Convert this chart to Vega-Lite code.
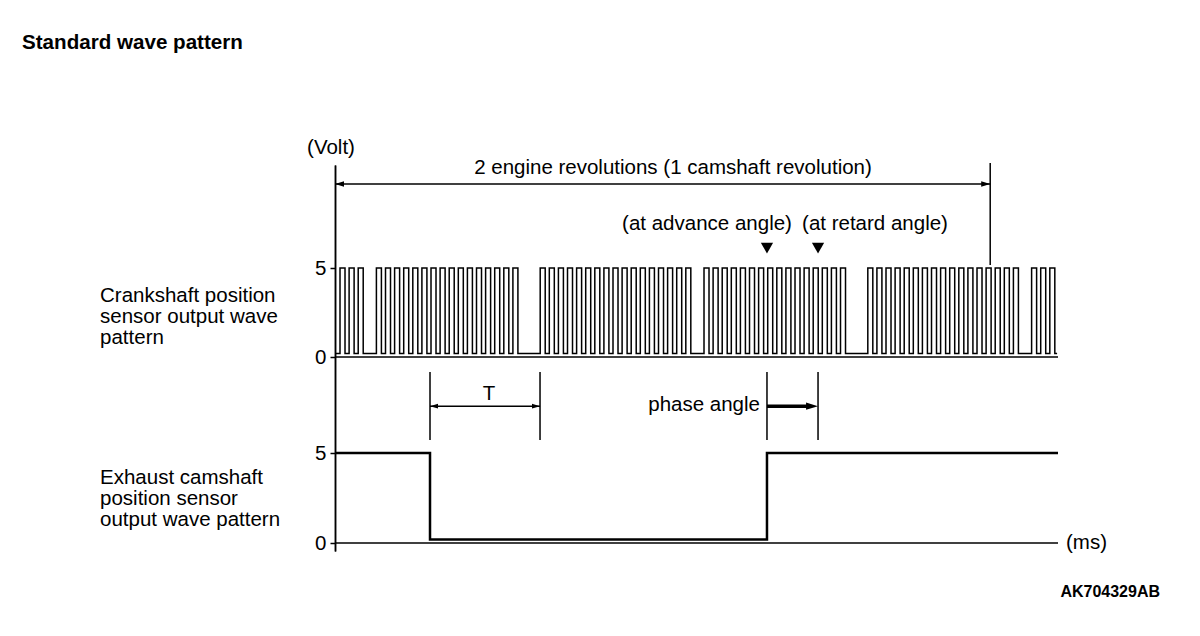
{
  "$schema": "https://vega.github.io/schema/vega-lite/v6.json",
  "width": 723,
  "height": 386,
  "autosize": {"type": "none"},
  "padding": {"left": 335, "top": 165, "right": 142, "bottom": 85},
  "background": "white",
  "config": {"view": {"stroke": null}, "font": "Liberation Sans", "text": {"font": "Liberation Sans", "fontSize": 20.5, "color": "black"}},
  "title": {"text": "Standard wave pattern", "anchor": "start", "frame": "group", "dx": -313, "offset": 74, "baseline": "middle", "fontSize": 20.6, "fontWeight": "bold", "color": "black", "font": "Liberation Sans"},
  "datasets": {
    "crank": [
      {"t":0,"v":0.2},
      {"t":0.55,"v":5},{"t":1.1,"v":0.2},{"t":1.55,"v":5},{"t":2.1,"v":0.2},{"t":2.55,"v":5},{"t":3.1,"v":0.2},
      {"t":4.55,"v":5},{"t":5.1,"v":0.2},{"t":5.55,"v":5},{"t":6.1,"v":0.2},{"t":6.55,"v":5},{"t":7.1,"v":0.2},{"t":7.55,"v":5},{"t":8.1,"v":0.2},
      {"t":8.55,"v":5},{"t":9.1,"v":0.2},{"t":9.55,"v":5},{"t":10.1,"v":0.2},{"t":10.55,"v":5},{"t":11.1,"v":0.2},{"t":11.55,"v":5},{"t":12.1,"v":0.2},
      {"t":12.55,"v":5},{"t":13.1,"v":0.2},{"t":13.55,"v":5},{"t":14.1,"v":0.2},{"t":14.55,"v":5},{"t":15.1,"v":0.2},{"t":15.55,"v":5},{"t":16.1,"v":0.2},
      {"t":16.55,"v":5},{"t":17.1,"v":0.2},{"t":17.55,"v":5},{"t":18.1,"v":0.2},{"t":18.55,"v":5},{"t":19.1,"v":0.2},{"t":19.55,"v":5},{"t":20.1,"v":0.2},
      {"t":22.55,"v":5},{"t":23.1,"v":0.2},{"t":23.55,"v":5},{"t":24.1,"v":0.2},{"t":24.55,"v":5},{"t":25.1,"v":0.2},{"t":25.55,"v":5},{"t":26.1,"v":0.2},
      {"t":26.55,"v":5},{"t":27.1,"v":0.2},{"t":27.55,"v":5},{"t":28.1,"v":0.2},{"t":28.55,"v":5},{"t":29.1,"v":0.2},{"t":29.55,"v":5},{"t":30.1,"v":0.2},
      {"t":30.55,"v":5},{"t":31.1,"v":0.2},{"t":31.55,"v":5},{"t":32.1,"v":0.2},{"t":32.55,"v":5},{"t":33.1,"v":0.2},{"t":33.55,"v":5},{"t":34.1,"v":0.2},
      {"t":34.55,"v":5},{"t":35.1,"v":0.2},{"t":35.55,"v":5},{"t":36.1,"v":0.2},{"t":36.55,"v":5},{"t":37.1,"v":0.2},{"t":37.55,"v":5},{"t":38.1,"v":0.2},
      {"t":38.55,"v":5},{"t":39.1,"v":0.2},
      {"t":40.55,"v":5},{"t":41.1,"v":0.2},{"t":41.55,"v":5},{"t":42.1,"v":0.2},{"t":42.55,"v":5},{"t":43.1,"v":0.2},{"t":43.55,"v":5},{"t":44.1,"v":0.2},
      {"t":44.55,"v":5},{"t":45.1,"v":0.2},{"t":45.55,"v":5},{"t":46.1,"v":0.2},{"t":46.55,"v":5},{"t":47.1,"v":0.2},{"t":47.55,"v":5},{"t":48.1,"v":0.2},
      {"t":48.55,"v":5},{"t":49.1,"v":0.2},{"t":49.55,"v":5},{"t":50.1,"v":0.2},{"t":50.55,"v":5},{"t":51.1,"v":0.2},{"t":51.55,"v":5},{"t":52.1,"v":0.2},
      {"t":52.55,"v":5},{"t":53.1,"v":0.2},{"t":53.55,"v":5},{"t":54.1,"v":0.2},{"t":54.55,"v":5},{"t":55.1,"v":0.2},{"t":55.55,"v":5},{"t":56.1,"v":0.2},
      {"t":58.55,"v":5},{"t":59.1,"v":0.2},{"t":59.55,"v":5},{"t":60.1,"v":0.2},{"t":60.55,"v":5},{"t":61.1,"v":0.2},{"t":61.55,"v":5},{"t":62.1,"v":0.2},
      {"t":62.55,"v":5},{"t":63.1,"v":0.2},{"t":63.55,"v":5},{"t":64.1,"v":0.2},{"t":64.55,"v":5},{"t":65.1,"v":0.2},{"t":65.55,"v":5},{"t":66.1,"v":0.2},
      {"t":66.55,"v":5},{"t":67.1,"v":0.2},{"t":67.55,"v":5},{"t":68.1,"v":0.2},{"t":68.55,"v":5},{"t":69.1,"v":0.2},{"t":69.55,"v":5},{"t":70.1,"v":0.2},
      {"t":70.55,"v":5},{"t":71.1,"v":0.2},{"t":71.55,"v":5},{"t":72.1,"v":0.2},{"t":72.55,"v":5},{"t":73.1,"v":0.2},{"t":73.55,"v":5},{"t":74.1,"v":0.2},
      {"t":74.55,"v":5},{"t":75.1,"v":0.2},
      {"t":76.55,"v":5},{"t":77.1,"v":0.2},{"t":77.55,"v":5},{"t":78.1,"v":0.2},{"t":78.55,"v":5},{"t":79.1,"v":0.2},
      {"t":79.35,"v":0.2}
    ],
    "cam": [{"t":0,"v":5},{"t":10.44,"v":0.2},{"t":47.47,"v":5},{"t":79.45,"v":5}],
    "crankSegs": [
      {"t0":0,"t1":79.45,"v0":0,"v1":0},
      {"t0":0,"t1":72,"v0":9.72,"v1":9.72},
      {"t0":72,"t1":72,"v0":10.9,"v1":5.17}
    ],
    "camSegs": [
      {"t0":0,"t1":79.45,"v0":0,"v1":0},
      {"t0":10.44,"t1":10.44,"v0":5.72,"v1":9.5},
      {"t0":22.53,"t1":22.53,"v0":5.72,"v1":9.5},
      {"t0":10.44,"t1":22.53,"v0":7.6,"v1":7.6},
      {"t0":47.47,"t1":47.47,"v0":5.72,"v1":9.5},
      {"t0":53.08,"t1":53.08,"v0":5.72,"v1":9.5}
    ]
  },
  "layer": [
    {
      "layer": [
        {
          "data": {"name": "crank"},
          "mark": {"type": "line", "interpolate": "step-after", "color": "black", "strokeWidth": 1.5},
          "encoding": {
            "x": {"field": "t", "type": "quantitative", "scale": {"domain": [0, 79.45], "nice": false, "zero": false}, "axis": null},
            "y": {"field": "v", "type": "quantitative", "scale": {"domain": [-10.9, 10.79], "nice": false, "zero": false},
                  "axis": {"orient": "left", "values": [0, 5], "title": null, "grid": false, "domainColor": "black", "domainWidth": 1.5, "tickColor": "black", "tickSize": 5, "tickWidth": 1.5, "labelFontSize": 20.5, "labelColor": "black", "labelFont": "Liberation Sans", "labelPadding": 4, "labelFlush": false, "labelOverlap": false, "format": "d"}}
          }
        },
        {
          "data": {"name": "crankSegs"},
          "mark": {"type": "rule", "color": "black", "strokeWidth": 1.5},
          "encoding": {
            "x": {"field": "t0", "type": "quantitative", "scale": {"domain": [0, 79.45], "nice": false, "zero": false}, "axis": null},
            "x2": {"field": "t1"},
            "y": {"field": "v0", "type": "quantitative", "scale": {"domain": [-10.9, 10.79], "nice": false, "zero": false}, "title": null},
            "y2": {"field": "v1"}
          }
        },
        {
          "data": {"values": [{"t": 0, "v": 9.72, "dir": "left"}, {"t": 72, "v": 9.72, "dir": "right"}]},
          "mark": {"type": "point", "filled": true, "color": "black", "opacity": 1, "size": 81, "strokeWidth": 0},
          "encoding": {
            "x": {"field": "t", "type": "quantitative", "scale": {"domain": [0, 79.45], "nice": false, "zero": false}, "axis": null},
            "y": {"field": "v", "type": "quantitative", "scale": {"domain": [-10.9, 10.79], "nice": false, "zero": false}, "title": null},
            "shape": {"field": "dir", "type": "nominal", "scale": {"domain": ["left", "right"], "range": ["M 0 0 L 2 -0.6 L 2 0.6 Z", "M 0 0 L -2 -0.6 L -2 0.6 Z"]}, "legend": null}
          }
        },
        {
          "data": {"values": [{"t": 47.47, "v": 6.12, "label": "advance"}, {"t": 53.08, "v": 6.12, "label": "retard"}]},
          "mark": {"type": "point", "shape": "triangle-down", "filled": true, "color": "black", "opacity": 1, "size": 150, "strokeWidth": 0},
          "encoding": {
            "x": {"field": "t", "type": "quantitative", "scale": {"domain": [0, 79.45], "nice": false, "zero": false}, "axis": null},
            "y": {"field": "v", "type": "quantitative", "scale": {"domain": [-10.9, 10.79], "nice": false, "zero": false}, "title": null}
          }
        },
        {
          "data": {"values": [
            {"t": -0.44, "v": 11.74, "text": "(Volt)"},
            {"t": 37.14, "v": 10.62, "text": "2 engine revolutions (1 camshaft revolution)"},
            {"t": 40.88, "v": 7.47, "text": "(at advance angle)"},
            {"t": 59.34, "v": 7.47, "text": "(at retard angle)"}
          ]},
          "mark": {"type": "text", "align": "center", "baseline": "middle", "fontSize": 20.5, "color": "black"},
          "encoding": {
            "x": {"field": "t", "type": "quantitative", "scale": {"domain": [0, 79.45], "nice": false, "zero": false}, "axis": null},
            "y": {"field": "v", "type": "quantitative", "scale": {"domain": [-10.9, 10.79], "nice": false, "zero": false}, "title": null},
            "text": {"field": "text"}
          }
        },
        {
          "data": {"values": [{"t": -25.82, "v": 3.45, "text": "Crankshaft position\nsensor output wave\npattern"}]},
          "mark": {"type": "text", "align": "left", "baseline": "middle", "fontSize": 20.5, "lineHeight": 21, "lineBreak": "\n", "color": "black"},
          "encoding": {
            "x": {"field": "t", "type": "quantitative", "scale": {"domain": [0, 79.45], "nice": false, "zero": false}, "axis": null},
            "y": {"field": "v", "type": "quantitative", "scale": {"domain": [-10.9, 10.79], "nice": false, "zero": false}, "title": null},
            "text": {"field": "text"}
          }
        }
      ]
    },
    {
      "layer": [
        {
          "data": {"name": "cam"},
          "mark": {"type": "line", "interpolate": "step-after", "color": "black", "strokeWidth": 2.5},
          "encoding": {
            "x": {"field": "t", "type": "quantitative", "scale": {"domain": [0, 79.45], "nice": false, "zero": false}, "axis": null},
            "y": {"field": "v", "type": "quantitative", "scale": {"domain": [-0.444, 21.0], "nice": false, "zero": false},
                  "axis": {"orient": "left", "values": [0, 5], "title": null, "grid": false, "domainColor": "black", "domainWidth": 1.5, "tickColor": "black", "tickSize": 5, "tickWidth": 1.5, "labelFontSize": 20.5, "labelColor": "black", "labelFont": "Liberation Sans", "labelPadding": 4, "labelFlush": false, "labelOverlap": false, "format": "d"}}
          }
        },
        {
          "data": {"name": "camSegs"},
          "mark": {"type": "rule", "color": "black", "strokeWidth": 1.5},
          "encoding": {
            "x": {"field": "t0", "type": "quantitative", "scale": {"domain": [0, 79.45], "nice": false, "zero": false}, "axis": null},
            "x2": {"field": "t1"},
            "y": {"field": "v0", "type": "quantitative", "scale": {"domain": [-0.444, 21.0], "nice": false, "zero": false}, "title": null},
            "y2": {"field": "v1"}
          }
        },
        {
          "data": {"values": [{"t0": 47.47, "t1": 52.2, "v": 7.6}]},
          "mark": {"type": "rule", "color": "black", "strokeWidth": 3.5},
          "encoding": {
            "x": {"field": "t0", "type": "quantitative", "scale": {"domain": [0, 79.45], "nice": false, "zero": false}, "axis": null},
            "x2": {"field": "t1"},
            "y": {"field": "v", "type": "quantitative", "scale": {"domain": [-0.444, 21.0], "nice": false, "zero": false}, "title": null}
          }
        },
        {
          "data": {"values": [{"t": 10.44, "v": 7.6, "dir": "left"}, {"t": 22.53, "v": 7.6, "dir": "right"}]},
          "mark": {"type": "point", "filled": true, "color": "black", "opacity": 1, "size": 64, "strokeWidth": 0},
          "encoding": {
            "x": {"field": "t", "type": "quantitative", "scale": {"domain": [0, 79.45], "nice": false, "zero": false}, "axis": null},
            "y": {"field": "v", "type": "quantitative", "scale": {"domain": [-0.444, 21.0], "nice": false, "zero": false}, "title": null},
            "shape": {"field": "dir", "type": "nominal", "scale": {"domain": ["left", "right"], "range": ["M 0 0 L 2 -0.6 L 2 0.6 Z", "M 0 0 L -2 -0.6 L -2 0.6 Z"]}, "legend": null}
          }
        },
        {
          "data": {"values": [{"t": 53.08, "v": 7.6}]},
          "mark": {"type": "point", "shape": "M 0 0 L -2 -0.6 L -2 0.6 Z", "filled": true, "color": "black", "opacity": 1, "size": 144, "strokeWidth": 0},
          "encoding": {
            "x": {"field": "t", "type": "quantitative", "scale": {"domain": [0, 79.45], "nice": false, "zero": false}, "axis": null},
            "y": {"field": "v", "type": "quantitative", "scale": {"domain": [-0.444, 21.0], "nice": false, "zero": false}, "title": null}
          }
        },
        {
          "data": {"values": [{"t": 16.92, "v": 8.28, "text": "T"}]},
          "mark": {"type": "text", "align": "center", "baseline": "middle", "fontSize": 20.5, "color": "black"},
          "encoding": {
            "x": {"field": "t", "type": "quantitative", "scale": {"domain": [0, 79.45], "nice": false, "zero": false}, "axis": null},
            "y": {"field": "v", "type": "quantitative", "scale": {"domain": [-0.444, 21.0], "nice": false, "zero": false}, "title": null},
            "text": {"field": "text"}
          }
        },
        {
          "data": {"values": [{"t": 46.7, "v": 7.67, "text": "phase angle"}]},
          "mark": {"type": "text", "align": "right", "baseline": "middle", "fontSize": 20.5, "color": "black"},
          "encoding": {
            "x": {"field": "t", "type": "quantitative", "scale": {"domain": [0, 79.45], "nice": false, "zero": false}, "axis": null},
            "y": {"field": "v", "type": "quantitative", "scale": {"domain": [-0.444, 21.0], "nice": false, "zero": false}, "title": null},
            "text": {"field": "text"}
          }
        },
        {
          "data": {"values": [
            {"t": -25.82, "v": 3.63, "text": "Exhaust camshaft\nposition sensor\noutput wave pattern"},
            {"t": 80.33, "v": 0, "text": "(ms)"}
          ]},
          "mark": {"type": "text", "align": "left", "baseline": "middle", "fontSize": 20.5, "lineHeight": 21, "lineBreak": "\n", "color": "black"},
          "encoding": {
            "x": {"field": "t", "type": "quantitative", "scale": {"domain": [0, 79.45], "nice": false, "zero": false}, "axis": null},
            "y": {"field": "v", "type": "quantitative", "scale": {"domain": [-0.444, 21.0], "nice": false, "zero": false}, "title": null},
            "text": {"field": "text"}
          }
        },
        {
          "data": {"values": [{"t": 90.66, "v": -2.72, "text": "AK704329AB"}]},
          "mark": {"type": "text", "align": "right", "baseline": "middle", "fontSize": 16, "fontWeight": "bold", "color": "black"},
          "encoding": {
            "x": {"field": "t", "type": "quantitative", "scale": {"domain": [0, 79.45], "nice": false, "zero": false}, "axis": null},
            "y": {"field": "v", "type": "quantitative", "scale": {"domain": [-0.444, 21.0], "nice": false, "zero": false}, "title": null},
            "text": {"field": "text"}
          }
        }
      ]
    }
  ],
  "resolve": {"scale": {"y": "independent"}}
}
